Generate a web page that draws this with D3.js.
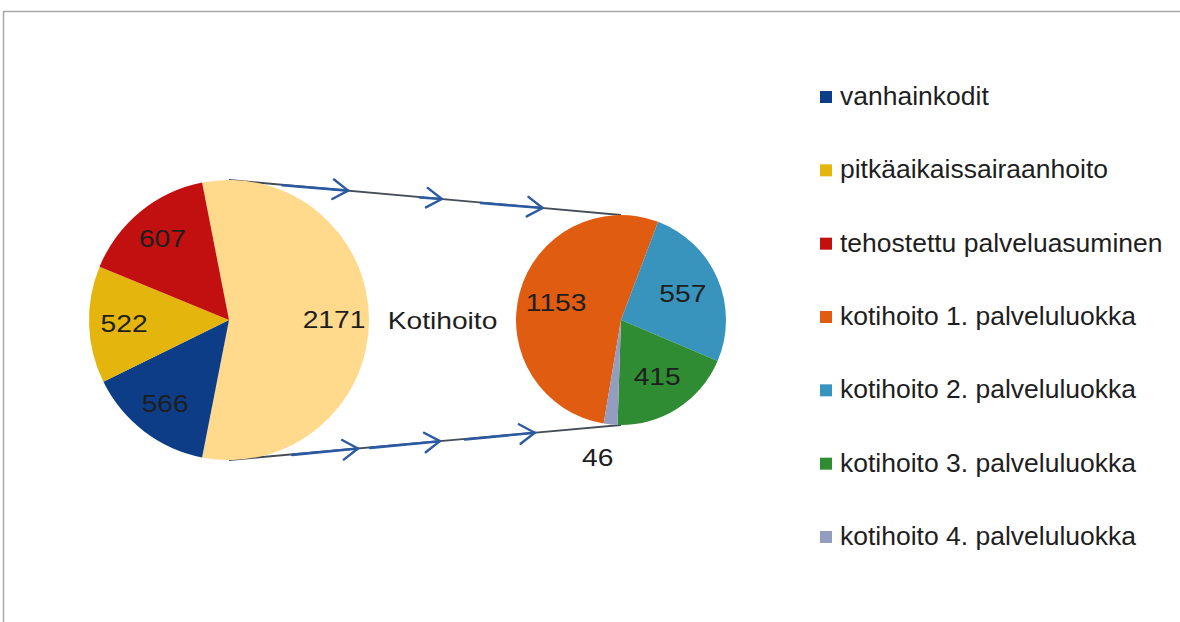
<!DOCTYPE html>
<html lang="fi">
<head>
<meta charset="utf-8">
<script src="https://cdn.jsdelivr.net/npm/d3@7"></script>
<style>
	body { margin: 0; background: #fff; }
	svg { display: block; }
	text { font-family: "Liberation Sans", Arial, sans-serif; fill: #1e1e1e; }
</style>
</head>
<body>
<div id="chart"></div>
<script>

var width = 1180, height = 622;

// primary pie (first value is the one split out to the second pie)
var mainNames = ["Kotihoito", "vanhainkodit", "pitkäaikaissairaanhoito", "tehostettu palveluasuminen"];
var mainValues = [2171, 566, 522, 607];

// secondary pie
var subNames = ["kotihoito 1. palveluluokka", "kotihoito 2. palveluluokka", "kotihoito 3. palveluluokka", "kotihoito 4. palveluluokka"];
var subValues = [1153, 557, 415, 46];

var legendNames = ["vanhainkodit", "pitkäaikaissairaanhoito", "tehostettu palveluasuminen",
	"kotihoito 1. palveluluokka", "kotihoito 2. palveluluokka", "kotihoito 3. palveluluokka", "kotihoito 4. palveluluokka"];

var color = d3.scaleOrdinal()
	.domain(["Kotihoito"].concat(legendNames))
	.range(["#ffd98c", "#0e3d88", "#e4b50c", "#c20f0f", "#e05c10", "#3893bd", "#2f8c32", "#949cc0"]);

var left = {cx: 229, cy: 320, r: 140};
var right = {cx: 621, cy: 320, r: 105};

var svg = d3.select("#chart").append("svg")
	.attr("width", width)
	.attr("height", height);

// chart frame
svg.append("rect")
	.attr("x", 3.5).attr("y", 11.5)
	.attr("width", width + 20).attr("height", height + 20)
	.style("fill", "none")
	.style("stroke", "#a8a8a8")
	.style("stroke-width", 1.5);

var mainTotal = d3.sum(mainValues);
var mainStart = Math.PI / 2 - Math.PI * mainValues[0] / mainTotal;

var pieMain = d3.pie().sort(null)
	.startAngle(mainStart)
	.endAngle(mainStart + 2 * Math.PI);

var subStart = -170.5 * Math.PI / 180;
var pieSub = d3.pie().sort(null)
	.startAngle(subStart)
	.endAngle(subStart + 2 * Math.PI);

var arcMain = d3.arc().innerRadius(0).outerRadius(left.r);
var arcSub = d3.arc().innerRadius(0).outerRadius(right.r);
var labelMain = d3.arc().innerRadius(left.r * 0.75).outerRadius(left.r * 0.75);
var labelSub = d3.arc().innerRadius(right.r * 0.64).outerRadius(right.r * 0.64);

var mainArcs = pieMain(mainValues);
var subArcs = pieSub(subValues);

// connector lines
var lines = [
	[[left.cx, left.cy - left.r], [right.cx, right.cy - right.r]],
	[[left.cx, left.cy + left.r], [right.cx, right.cy + right.r]]
];

var gLines = svg.append("g");
gLines.selectAll(".conn")
	.data(lines)
	.enter()
	.append("line")
	.attr("class", "conn")
	.attr("x1", function(d) { return d[0][0]; })
	.attr("y1", function(d) { return d[0][1]; })
	.attr("x2", function(d) { return d[1][0]; })
	.attr("y2", function(d) { return d[1][1]; })
	.style("stroke", "#474d58")
	.style("stroke-width", 1.8);

// pies
var gMain = svg.append("g").attr("transform", "translate(" + left.cx + "," + left.cy + ")");
gMain.selectAll("path")
	.data(mainArcs)
	.enter()
	.append("path")
	.attr("d", arcMain)
	.style("fill", function(d, i) { return color(mainNames[i]); });

var gSub = svg.append("g").attr("transform", "translate(" + right.cx + "," + right.cy + ")");
gSub.selectAll("path")
	.data(subArcs)
	.enter()
	.append("path")
	.attr("d", arcSub)
	.style("fill", function(d, i) { return color(subNames[i]); });

// hand drawn arrows on the connector lines: [line, head position t, shaft length]
var arrows = [
	[0, 0.304, 66], [0, 0.543, 22], [0, 0.80, 62],
	[1, 0.329, 66], [1, 0.538, 70], [1, 0.78, 70]
];

var gArrows = svg.append("g");
arrows.forEach(function(a) {
	var p0 = lines[a[0]][0], p1 = lines[a[0]][1];
	var dx = p1[0] - p0[0], dy = p1[1] - p0[1];
	var len = Math.sqrt(dx * dx + dy * dy);
	var ux = dx / len, uy = dy / len;
	var hx = p0[0] + dx * a[1], hy = p0[1] + dy * a[1];
	var arm = 18, ang = 33 * Math.PI / 180;
	function rot(s) {
		var c = Math.cos(s * ang), sn = Math.sin(s * ang);
		return [hx - arm * (ux * c - uy * sn), hy - arm * (ux * sn + uy * c)];
	}
	var pa = rot(1), pb = rot(-1);
	gArrows.append("path")
		.attr("d", "M" + (hx - ux * a[2]) + "," + (hy - uy * a[2] + 0.5) + "L" + hx + "," + hy)
		.style("stroke", "#2b5aa3").style("stroke-width", 2.6).style("fill", "none")
		.style("stroke-linecap", "round");
	gArrows.append("path")
		.attr("d", "M" + pa[0] + "," + pa[1] + "L" + hx + "," + hy + "L" + pb[0] + "," + pb[1])
		.style("stroke", "#2b5aa3").style("stroke-width", 2.4).style("fill", "none")
		.style("stroke-linecap", "round").style("stroke-linejoin", "round");
});

// data labels
var fs = 23.5, sx = 1.2;

gMain.selectAll(".lab")
	.data(mainArcs)
	.enter()
	.append("text")
	.attr("class", "lab")
	.attr("transform", function(d) {
		var c = labelMain.centroid(d);
		return "translate(" + c[0] + "," + (c[1] + fs * 0.36) + ") scale(" + sx + ",1)";
	})
	.style("font-size", fs + "px")
	.style("text-anchor", "middle")
	.text(function(d) { return d.data; });

gSub.selectAll(".lab")
	.data(subArcs)
	.enter()
	.append("text")
	.attr("class", "lab")
	.attr("transform", function(d, i) {
		var c = labelSub.centroid(d);
		if (i === 3) {
			// small slice gets its label outside, below the pie
			var a = (d.startAngle + d.endAngle) / 2;
			c = [Math.sin(a) * right.r * 1.27 - 10, -Math.cos(a) * right.r * 1.27 + 5];
		}
		return "translate(" + c[0] + "," + (c[1] + fs * 0.36) + ") scale(" + sx + ",1)";
	})
	.style("font-size", fs + "px")
	.style("text-anchor", "middle")
	.text(function(d) { return d.data; });

// name of the split slice between the pies
svg.append("text")
	.attr("transform", "translate(" + ((left.cx + left.r + right.cx - right.r) / 2) + "," + (left.cy + 9) + ") scale(" + sx + ",1)")
	.style("font-size", fs + "px")
	.style("text-anchor", "middle")
	.text(mainNames[0]);

// legend
var ly = d3.scalePoint()
	.domain(legendNames)
	.range([105, 545]);

var legend = svg.append("g").selectAll(".leg")
	.data(legendNames)
	.enter()
	.append("g")
	.attr("class", "leg")
	.attr("transform", function(d) { return "translate(820," + ly(d) + ")"; });

legend.append("rect")
	.attr("x", 0).attr("y", -14)
	.attr("width", 12).attr("height", 12)
	.style("fill", function(d) { return color(d); });

legend.append("text")
	.attr("transform", "translate(20,0) scale(1.06,1)")
	.style("font-size", "25px")
	.text(function(d) { return d; });

</script>
</body>
</html>
